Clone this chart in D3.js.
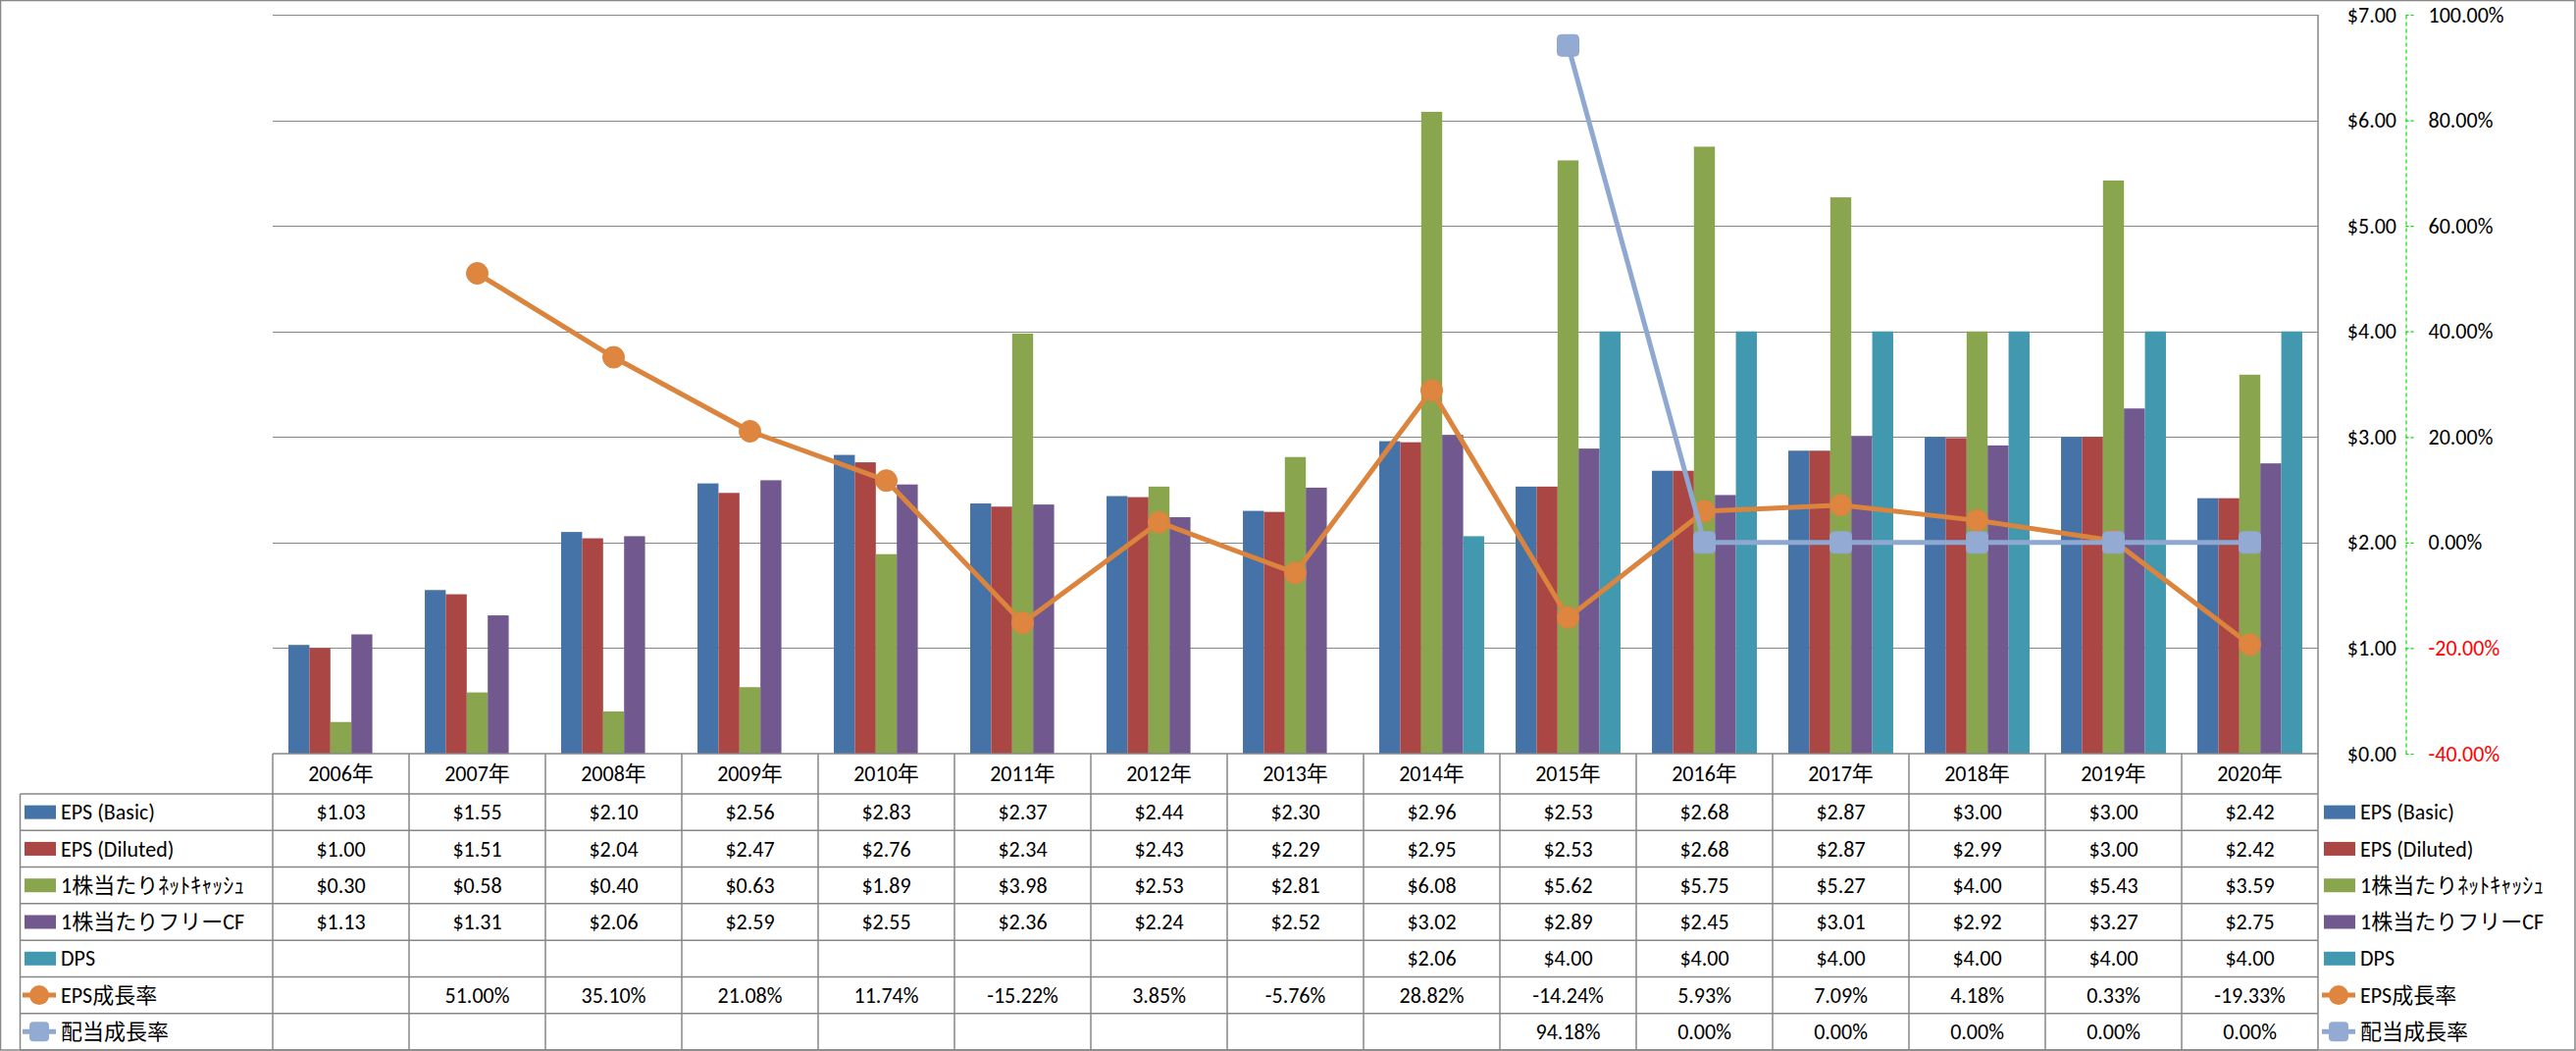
<!DOCTYPE html>
<html><head><meta charset="utf-8">
<script src="https://cdn.jsdelivr.net/npm/d3@7"></script>
<style>body{margin:0;background:#fff}</style>
</head><body><svg id="c" width="2626" height="1071"></svg>
<script>
// ---------- data ----------
const years = ["2006年","2007年","2008年","2009年","2010年","2011年","2012年","2013年","2014年","2015年","2016年","2017年","2018年","2019年","2020年"];
const epsBasic   = [1.03,1.55,2.10,2.56,2.83,2.37,2.44,2.30,2.96,2.53,2.68,2.87,3.00,3.00,2.42];
const epsDiluted = [1.00,1.51,2.04,2.47,2.76,2.34,2.43,2.29,2.95,2.53,2.68,2.87,2.99,3.00,2.42];
const netCashPS  = [0.30,0.58,0.40,0.63,1.89,3.98,2.53,2.81,6.08,5.62,5.75,5.27,4.00,5.43,3.59];
const freeCFPS   = [1.13,1.31,2.06,2.59,2.55,2.36,2.24,2.52,3.02,2.89,2.45,3.01,2.92,3.27,2.75];
const dps        = [null,null,null,null,null,null,null,null,2.06,4.00,4.00,4.00,4.00,4.00,4.00];
const epsGrowth  = [null,51.00,35.10,21.08,11.74,-15.22,3.85,-5.76,28.82,-14.24,5.93,7.09,4.18,0.33,-19.33];
const divGrowth  = [null,null,null,null,null,null,null,null,null,94.18,0.00,0.00,0.00,0.00,0.00];
const seriesNames = ["EPS (Basic)","EPS (Diluted)","1株当たりﾈｯﾄｷｬｯｼｭ","1株当たりフリーCF","DPS","EPS成長率","配当成長率"];
const dollarTicks = [0,1,2,3,4,5,6,7];
const pctTicks = [-40,-20,0,20,40,60,80,100];

// ---------- styling ----------
const colors = ["#4572A7","#AA4643","#89A54E","#71588F","#4198AF","#DB843D","#8FA8D1"];
const FONT = "Carlito, Calibri, Lato, 'Noto Sans CJK JP', sans-serif";
const FS = 22;
const GRID = "#878787";

const locale = d3.formatLocale({decimal:".", thousands:",", grouping:[3], currency:["$",""], minus:"-"});
const fmtD = locale.format("$.2f");
const fmtP = v => locale.format(".2f")(v) + "%";

const svg = d3.select("#c");
const W = 2626, H = 1071;
const plotL = 278, plotR = 2363, plotT = 15, plotB = 768;
const tableL = 20.5;
const rowTop = 809, rowBottom = 1070, nRows = 7;
const rowH = (rowBottom - rowTop) / nRows;

const x = d3.scaleBand().domain(years).range([plotL, plotR]).paddingInner(0).paddingOuter(0);
const barKeys = seriesNames.slice(0,5);
const xs = d3.scaleBand().domain(barKeys).range([0, x.bandwidth()]).paddingInner(0).paddingOuter(0.75);
const y = d3.scaleLinear().domain([0,7]).range([plotB, plotT]);
const y2 = d3.scaleLinear().domain([-40,100]).range([plotB, plotT]);

const barData = [epsBasic, epsDiluted, netCashPS, freeCFPS, dps];
const lineData = [epsGrowth, divGrowth];

// outer border
svg.append("rect").attr("x",0.5).attr("y",0.5).attr("width",W-1.5).attr("height",H-1.5)
  .attr("fill","#fff").attr("stroke",GRID).attr("stroke-width",1.5);

// gridlines
svg.append("g").selectAll("line").data(dollarTicks.filter(d=>d>0)).join("line")
  .attr("x1",plotL).attr("x2",plotR).attr("y1",d=>Math.round(y(d))+0.5).attr("y2",d=>Math.round(y(d))+0.5)
  .attr("stroke",GRID).attr("stroke-width",1.2);

// bars
const gb = svg.append("g");
barData.forEach((vals, si) => {
  gb.append("g").selectAll("rect").data(vals.map((v,i)=>({v, year:years[i]})).filter(d=>d.v!=null)).join("rect")
    .attr("x", d => x(d.year) + xs(barKeys[si]))
    .attr("width", xs.bandwidth())
    .attr("y", d => y(d.v))
    .attr("height", d => y(0) - y(d.v))
    .attr("fill", colors[si]);
});

// lines
const line = d3.line().defined(d=>d.v!=null).x(d=>x(d.year)+x.bandwidth()/2).y(d=>y2(d.v));
lineData.forEach((vals, li) => {
  const c = colors[5+li];
  const pts = vals.map((v,i)=>({v, year:years[i]}));
  svg.append("path").datum(pts).attr("d", line).attr("fill","none").attr("stroke",c)
    .attr("stroke-width",5).attr("stroke-linejoin","round");
  const g = svg.append("g");
  const dd = pts.filter(d=>d.v!=null);
  if (li === 0) {
    g.selectAll("circle").data(dd).join("circle")
      .attr("cx", d=>x(d.year)+x.bandwidth()/2).attr("cy", d=>y2(d.v)).attr("r",11)
      .attr("fill","#DE8640").attr("stroke",c).attr("stroke-width",1);
  } else {
    g.selectAll("rect").data(dd).join("rect")
      .attr("x", d=>x(d.year)+x.bandwidth()/2-11).attr("y", d=>y2(d.v)-11)
      .attr("width",22).attr("height",22).attr("rx",4)
      .attr("fill","#93ABD3").attr("stroke",c).attr("stroke-width",1);
  }
});

// plot right border / table lines
const gl = svg.append("g").attr("stroke",GRID).attr("stroke-width",1.5);
gl.append("line").attr("x1",plotR).attr("x2",plotR).attr("y1",plotT).attr("y2",rowBottom);
gl.append("line").attr("x1",plotL).attr("x2",plotR).attr("y1",plotB).attr("y2",plotB);
for (let r=0; r<=nRows; r++) {
  const yy = rowTop + r*rowH;
  gl.append("line").attr("x1",tableL).attr("x2",plotR).attr("y1",yy).attr("y2",yy);
}
gl.append("line").attr("x1",tableL).attr("x2",tableL).attr("y1",rowTop).attr("y2",rowBottom);
years.forEach(yr => {
  gl.append("line").attr("x1",x(yr)).attr("x2",x(yr)).attr("y1",plotB).attr("y2",rowBottom);
});

const txt = svg.append("g").attr("font-family",FONT).attr("font-size",FS).attr("fill","#000");
// header years
txt.selectAll(".yr").data(years).join("text")
  .attr("x", d=>x(d)+x.bandwidth()/2).attr("y",(plotB+rowTop)/2).attr("dy","0.35em")
  .attr("text-anchor","middle").text(d=>d);

// table rows
const allRows = [...barData, ...lineData];
allRows.forEach((vals, ri) => {
  const cy = rowTop + (ri+0.5)*rowH;
  const isPct = ri >= 5;
  txt.append("g").selectAll("text").data(vals.map((v,i)=>({v,year:years[i]})).filter(d=>d.v!=null)).join("text")
    .attr("x", d=>x(d.year)+x.bandwidth()/2).attr("y",cy).attr("dy","0.35em")
    .attr("text-anchor","middle").text(d=> isPct ? fmtP(d.v) : fmtD(d.v));
});

// legend keys (table and right side)
function legendKey(g, ri, kx) {
  const cy = rowTop + (ri+0.5)*rowH;
  const c = colors[ri];
  if (ri < 5) {
    g.append("rect").attr("x",kx).attr("y",cy-7).attr("width",32).attr("height",14).attr("fill",c);
  } else {
    g.append("line").attr("x1",kx-2).attr("x2",kx+32).attr("y1",cy).attr("y2",cy).attr("stroke",c).attr("stroke-width",5);
    if (ri === 5) g.append("circle").attr("cx",kx+15).attr("cy",cy).attr("r",10).attr("fill","#DE8640");
    else g.append("rect").attr("x",kx+5).attr("y",cy-10).attr("width",20).attr("height",20).attr("rx",4).attr("fill","#93ABD3");
  }
  g.append("text").attr("x",kx+37).attr("y",cy).attr("dy","0.35em").text(seriesNames[ri]);
}
seriesNames.forEach((n,ri)=>{ legendKey(txt, ri, 25); legendKey(txt, ri, 2369); });

// primary axis ($) labels on right
const ax1 = svg.append("g").attr("transform","translate(2446,0)")
  .call(d3.axisLeft(y).tickValues(dollarTicks).tickFormat(fmtD).tickSize(0).tickPadding(3));
ax1.select(".domain").remove();
ax1.selectAll("text").attr("font-family",FONT).attr("font-size",FS).attr("fill","#000");

// secondary axis (%)
const ax2 = svg.append("g").attr("transform","translate(2452.5,0)")
  .call(d3.axisRight(y2).tickValues(pctTicks).tickFormat(fmtP).tickSize(8).tickPadding(15).tickSizeOuter(0));
ax2.select(".domain").attr("stroke","#00E000").attr("stroke-dasharray","4,3").attr("stroke-width",1.2);
ax2.selectAll(".tick line").attr("stroke","#00E000").attr("stroke-dasharray","3,2").attr("stroke-width",1.2);
ax2.selectAll("text").attr("font-family",FONT).attr("font-size",FS)
  .attr("fill", d => d < 0 ? "#FF0000" : "#000");
</script></body></html>
